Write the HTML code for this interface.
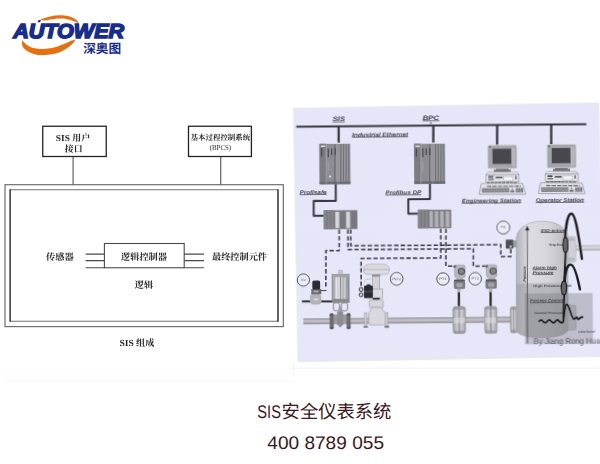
<!DOCTYPE html>
<html lang="zh"><head><meta charset="utf-8"><title>SIS安全仪表系统</title>
<style>
html,body{margin:0;padding:0;background:#fff}
body{width:600px;height:464px;overflow:hidden;position:relative;font-family:"Liberation Sans",sans-serif}
svg{position:absolute;left:0;top:0;display:block}
text{font-family:"Liberation Sans",sans-serif;text-rendering:geometricPrecision}
</style></head><body>
<svg width="600" height="464" viewBox="0 0 600 464">
<defs>
<filter id="b3" x="-5%" y="-5%" width="110%" height="110%"><feGaussianBlur stdDeviation="0.35"/></filter>
<filter id="b5" x="-5%" y="-5%" width="110%" height="110%"><feGaussianBlur stdDeviation="0.5"/></filter>
<filter id="b2" x="-5%" y="-5%" width="110%" height="110%"><feGaussianBlur stdDeviation="0.25"/></filter>
<linearGradient id="bg" x1="0" y1="0" x2="0" y2="1"><stop offset="0" stop-color="#e6e6fa"/><stop offset="1" stop-color="#e7e7fa"/></linearGradient>
<linearGradient id="pipe" x1="0" y1="0" x2="0" y2="1"><stop offset="0" stop-color="#8e8e93"/><stop offset="0.45" stop-color="#c8c8ce"/><stop offset="1" stop-color="#8a8a8f"/></linearGradient>
<linearGradient id="cyl" x1="0" y1="0" x2="1" y2="0"><stop offset="0" stop-color="#9a9aa0"/><stop offset="0.4" stop-color="#d8d8de"/><stop offset="1" stop-color="#8e8e94"/></linearGradient>
<linearGradient id="ves" x1="0" y1="0" x2="1" y2="0"><stop offset="0" stop-color="#b0b0b6"/><stop offset="0.25" stop-color="#dcdce2"/><stop offset="0.6" stop-color="#d6d6dc"/><stop offset="1" stop-color="#b8b8be"/></linearGradient>
<linearGradient id="flg" x1="0" y1="0" x2="1" y2="0"><stop offset="0" stop-color="#9a9aa0"/><stop offset="0.35" stop-color="#d2d2d8"/><stop offset="0.5" stop-color="#8e8e94"/><stop offset="0.65" stop-color="#d2d2d8"/><stop offset="1" stop-color="#9a9aa0"/></linearGradient>
<linearGradient id="noz" x1="0" y1="0" x2="0" y2="1"><stop offset="0" stop-color="#b4b4ba"/><stop offset="0.4" stop-color="#dadae0"/><stop offset="1" stop-color="#aaaab0"/></linearGradient>
<clipPath id="vclip"><path d="M220.7 130.2 C221.8 120.7 232.5 114 246.5 114.1 C260.5 114.2 271.5 120.6 272.4 129.6 L271.6 223.6 C269.5 228.1 259.5 230.6 245.5 230.5 C231.5 230.4 221.8 227.7 219.9 223.7 Z"/></clipPath>
</defs>
<g id="logo">
<path d="M22.6 40.1 C21 43.5 22 46.5 24.3 48.8 C27 51.8 32 54 38 54.9 C42 55.4 48 55 55.8 53.5 C62 52 68.5 48 73.3 43 C74.5 41.8 75 40.6 75.1 39.5 C73.5 40 72 40.3 71 40.7 C68 42.5 65 43.8 61.7 44.7 C58 46.5 54 47.6 50 48.2 C46 49 42 49.2 38.3 48.8 C33 48.3 29.5 46.8 26.7 44.7 C24.5 43.2 23.3 41.8 22.6 40.1 Z" fill="#e5700f"/>
<path d="M40.1 19.9 C43 18.2 46.5 17.2 50 16.4 C54 15.5 58 15.1 61.7 15.25 C65 15.4 68.5 16 71 17 C74.5 18.3 77 20 78 21.7 C78.5 22.3 78.7 22.9 78.6 23.4 C77 22.5 75 21.7 73.3 21.1 C70.5 19.9 68 19.2 65.2 18.75 C62 18.3 59 18.3 55.8 18.75 C52 19.2 48.5 19.8 45.3 20.6 Z" fill="#e5700f"/>
<text x="13.2" y="37.9" font-size="20.2" font-weight="bold" font-style="italic" fill="#182c8c" stroke="#182c8c" stroke-width="1.5" stroke-linejoin="miter" textLength="111" lengthAdjust="spacingAndGlyphs">AUTOWER</text>
<path d="M37.6 22.3 L38.6 20 L41 20 L40 22.3 Z" fill="#182c8c"/>
<text x="83.2" y="52.6" font-size="12.6" font-weight="bold" fill="#182c8c" style="font-family:'Liberation Sans','Noto Sans CJK SC',sans-serif" textLength="38" lengthAdjust="spacingAndGlyphs">深奥图</text>
</g>
<path d="M0 368.2H292" stroke="#fafafa" stroke-width="0.9"/><path d="M292 368.2H600" stroke="#f1f1f3" stroke-width="0.9"/><path d="M3 380.7H295" stroke="#f9f9f9" stroke-width="0.9"/><path d="M293.6 362V375" stroke="#f0f0f3" stroke-width="0.9"/>
<g id="left" filter="url(#b3)">
<rect x="5" y="184.7" width="278.3" height="141.9" fill="none" stroke="#6e6e6e" stroke-width="1.2"/>
<path d="M10.1 189.8H278M10.1 321.3H278" stroke="#707070" stroke-width="1.1" fill="none"/>
<path d="M10.1 189.3V321.8M278 189.3V321.8" stroke="#262626" stroke-width="1.4" fill="none"/>
<rect x="42.75" y="126.25" width="63.5" height="30.25" fill="none" stroke="#222" stroke-width="1.3"/>
<rect x="188.5" y="126.25" width="62.9" height="30.25" fill="none" stroke="#222" stroke-width="1.3"/>
<path d="M73.1 157V184.5M220.75 157V184.5" stroke="#555" stroke-width="1.1" fill="none"/>
<rect x="104.4" y="243.5" width="79.8" height="24.25" fill="none" stroke="#4a4a4a" stroke-width="1.1"/>
<path d="M85.6 254.1H104.4M85.6 260.6H104.4M85.6 267.75H104.4M184.2 254.1H203.9M184.2 260.6H203.9M184.2 267.75H203.9" stroke="#4a4a4a" stroke-width="1.1" fill="none"/>
<text x="55.8" y="141" font-size="9" font-weight="bold" fill="#262626" style="font-family:'Liberation Serif',serif" textLength="14.1" lengthAdjust="spacingAndGlyphs">SIS</text>
<text x="72.3" y="141.2" font-size="9" font-weight="bold" fill="#262626" style="font-family:'Liberation Serif','Noto Serif CJK SC',serif" textLength="17.8" lengthAdjust="spacingAndGlyphs">用户</text>
<text x="64.8" y="152.3" font-size="9" font-weight="bold" fill="#262626" style="font-family:'Liberation Serif','Noto Serif CJK SC',serif" textLength="17.8" lengthAdjust="spacingAndGlyphs">接口</text>
<text x="190.5" y="139.8" font-size="7.5" font-weight="bold" fill="#262626" style="font-family:'Liberation Serif','Noto Serif CJK SC',serif" textLength="59.8" lengthAdjust="spacingAndGlyphs">基本过程控制系统</text>
<text x="209.7" y="149.5" font-size="7.6" fill="#2a2a2a" style="font-family:'Liberation Serif',serif" textLength="21.4" lengthAdjust="spacingAndGlyphs">(BPCS)</text>
<text x="46" y="260.3" font-size="9.2" font-weight="bold" fill="#262626" style="font-family:'Liberation Serif','Noto Serif CJK SC',serif" textLength="27.6" lengthAdjust="spacingAndGlyphs">传感器</text>
<text x="121" y="260" font-size="9.2" font-weight="bold" fill="#262626" style="font-family:'Liberation Serif','Noto Serif CJK SC',serif" textLength="46" lengthAdjust="spacingAndGlyphs">逻辑控制器</text>
<text x="134.8" y="287.9" font-size="9.1" font-weight="bold" fill="#262626" style="font-family:'Liberation Serif','Noto Serif CJK SC',serif" textLength="18.4" lengthAdjust="spacingAndGlyphs">逻辑</text>
<text x="212" y="260.4" font-size="9.2" font-weight="bold" fill="#262626" style="font-family:'Liberation Serif','Noto Serif CJK SC',serif" textLength="55" lengthAdjust="spacingAndGlyphs">最终控制元件</text>
<text x="119.4" y="345.5" font-size="9.3" font-weight="bold" fill="#262626" style="font-family:'Liberation Serif',serif" textLength="14.4" lengthAdjust="spacingAndGlyphs">SIS</text>
<text x="136" y="345.5" font-size="9.2" font-weight="bold" fill="#262626" style="font-family:'Liberation Serif','Noto Serif CJK SC',serif" textLength="18.3" lengthAdjust="spacingAndGlyphs">组成</text>
</g>
<g id="picbg" transform="translate(294.5 109.25) rotate(-1.0)" filter="url(#b3)">
<rect x="0" y="0" width="303.3" height="251.5" fill="url(#bg)" stroke="#e7e7eb" stroke-width="2.8" paint-order="stroke"/>
</g>
<g id="pic" transform="translate(294.5 109.25) rotate(-0.5)" filter="url(#b3)">
<path d="M1.6 17.5 L291.7 17.5" fill="none" stroke="#37373c" stroke-width="2.1" />
<path d="M44 17.6 L43.9 33.7" fill="none" stroke="#37373c" stroke-width="2.3" />
<path d="M138.7 17.5 L138.5 34.4" fill="none" stroke="#37373c" stroke-width="2.3" />
<path d="M202.5 17.5 L202.3 37.8" fill="none" stroke="#37373c" stroke-width="2.3" />
<path d="M256.6 17.4 L256.4 37.8" fill="none" stroke="#37373c" stroke-width="2.3" />
<path d="M40.6 75.1 L40.5 91.9 L18.4 91.7 L18.3 106.7 L28.6 106.8" fill="none" stroke="#37373c" stroke-width="2.0" stroke-linejoin="round"/>
<path d="M134.8 75.5 L134.7 91.1 L113 90.9 L112.9 105.4 L122.8 105.5" fill="none" stroke="#37373c" stroke-width="2.0" stroke-linejoin="round"/>
<circle cx="136.3" cy="15.1" r="0.9" fill="none" stroke="#4a4a50" stroke-width="0.5" />
<rect x="24.6" y="34.9" width="30.8" height="40.4" fill="#8c8c91" />
<rect x="24.6" y="34.7" width="6.7" height="40.4" fill="#7c7c82" />
<rect x="24.5" y="72.7" width="30.8" height="2.6" fill="#6c6c72" />
<rect x="40.6" y="35.5" width="2" height="37.2" fill="#98989e" />
<rect x="43.6" y="35.5" width="1.8" height="37.2" fill="#98989e" />
<rect x="46.3" y="35.5" width="1.7" height="37.2" fill="#98989e" />
<rect x="49" y="35.5" width="1.7" height="37.2" fill="#98989e" />
<rect x="51.6" y="35.6" width="1.4" height="37.2" fill="#98989e" />
<path d="M31.4 35.3 L31.1 74.7" fill="none" stroke="#b5b5bb" stroke-width="0.6" />
<path d="M40.2 35.4 L39.8 74.8" fill="none" stroke="#5a5a60" stroke-width="0.9" />
<path d="M43.3 35.4 L42.9 74.8" fill="none" stroke="#a0a0a6" stroke-width="0.5" />
<path d="M46 35.4 L45.7 74.9" fill="none" stroke="#606066" stroke-width="0.8" />
<path d="M48.7 35.4 L48.3 74.9" fill="none" stroke="#66666c" stroke-width="0.8" />
<path d="M51.3 35.4 L50.9 74.9" fill="none" stroke="#66666c" stroke-width="0.8" />
<path d="M53.6 35.5 L53.2 74.9" fill="none" stroke="#6c6c72" stroke-width="0.7" />
<path d="M26.8 39.3 L26.7 47.5" fill="none" stroke="#3e3e44" stroke-width="1.1" />
<path d="M33.4 39.4 L33.3 48.2" fill="none" stroke="#3e3e44" stroke-width="1.1" />
<path d="M36.7 39.4 L36.6 46.3" fill="none" stroke="#3e3e44" stroke-width="1.1" />
<path d="M40.4 39.1 L40.3 46.1" fill="none" stroke="#3e3e44" stroke-width="1.1" />
<rect x="26" y="36.5" width="4.4" height="1.5" fill="#d8d8de" />
<path d="M33.2 52.8 L33.2 61.8" fill="none" stroke="#a8a8ae" stroke-width="0.8" />
<circle cx="35" cy="67.4" r="1" fill="#f0f0f4" stroke="none" stroke-width="0" />
<rect x="119.3" y="35.7" width="30.9" height="40.1" fill="#8c8c91" />
<rect x="119.3" y="35.6" width="6.7" height="40.1" fill="#7c7c82" />
<rect x="119.1" y="73.1" width="30.9" height="2.6" fill="#6c6c72" />
<rect x="135.4" y="36.3" width="2" height="36.9" fill="#98989e" />
<rect x="138.3" y="36.3" width="1.9" height="36.9" fill="#98989e" />
<rect x="141.1" y="36.3" width="1.7" height="36.9" fill="#98989e" />
<rect x="143.7" y="36.4" width="1.7" height="36.9" fill="#98989e" />
<rect x="146.4" y="36.4" width="1.4" height="36.9" fill="#98989e" />
<path d="M126.1 36.1 L125.8 75.2" fill="none" stroke="#b5b5bb" stroke-width="0.6" />
<path d="M134.9 36.2 L134.6 75.2" fill="none" stroke="#5a5a60" stroke-width="0.9" />
<path d="M138 36.2 L137.7 75.3" fill="none" stroke="#a0a0a6" stroke-width="0.5" />
<path d="M140.8 36.2 L140.5 75.3" fill="none" stroke="#606066" stroke-width="0.8" />
<path d="M143.4 36.3 L143.1 75.3" fill="none" stroke="#66666c" stroke-width="0.8" />
<path d="M146.1 36.3 L145.7 75.3" fill="none" stroke="#66666c" stroke-width="0.8" />
<path d="M148.4 36.3 L148 75.3" fill="none" stroke="#6c6c72" stroke-width="0.7" />
<path d="M121.4 40.2 L121.3 48.4" fill="none" stroke="#3e3e44" stroke-width="1.1" />
<path d="M128 40.2 L127.9 49" fill="none" stroke="#3e3e44" stroke-width="1.1" />
<path d="M131.3 40.2 L131.2 47.1" fill="none" stroke="#3e3e44" stroke-width="1.1" />
<path d="M135 39.9 L134.9 46.9" fill="none" stroke="#3e3e44" stroke-width="1.1" />
<rect x="120.6" y="37.4" width="4.4" height="1.5" fill="#d8d8de" />
<path d="M127.9 53.6 L127.8 62.6" fill="none" stroke="#a8a8ae" stroke-width="0.8" />
<rect x="28.2" y="101.4" width="33.8" height="18.9" fill="#7e7e84" />
<rect x="28.2" y="101.3" width="10.5" height="18.9" fill="#85858b" />
<rect x="39.8" y="103" width="3.9" height="16.1" fill="#d6d6dd" />
<rect x="50.8" y="103.1" width="3.7" height="16.1" fill="#d6d6dd" />
<path d="M31.6 101.8 L31.5 119.7" fill="none" stroke="#66666c" stroke-width="0.6" />
<path d="M35.1 101.9 L35 119.8" fill="none" stroke="#66666c" stroke-width="0.6" />
<path d="M38.8 101.9 L38.7 119.8" fill="none" stroke="#66666c" stroke-width="0.6" />
<rect x="122.5" y="101.7" width="33.3" height="18.6" fill="#7e7e84" />
<rect x="122.5" y="101.6" width="10.5" height="18.6" fill="#85858b" />
<rect x="134.2" y="103.2" width="3.2" height="15.8" fill="#b2b2b8" />
<rect x="139.5" y="103.3" width="3.2" height="15.8" fill="#b2b2b8" />
<rect x="144.8" y="103.3" width="3.3" height="15.8" fill="#b2b2b8" />
<rect x="150.3" y="103.4" width="3.5" height="15.8" fill="#b2b2b8" />
<path d="M125.9 102.1 L125.8 119.7" fill="none" stroke="#66666c" stroke-width="0.6" />
<path d="M129.4 102.1 L129.3 119.7" fill="none" stroke="#66666c" stroke-width="0.6" />
<path d="M133.1 102.1 L133 119.7" fill="none" stroke="#66666c" stroke-width="0.6" />
<path d="M46.1 102.2 L46 119.8" fill="none" stroke="#66666c" stroke-width="0.6" />
<path d="M48.6 102.2 L48.5 119.8" fill="none" stroke="#66666c" stroke-width="0.6" />
<path d="M57.1 102.3 L57 119.9" fill="none" stroke="#66666c" stroke-width="0.6" />
<path d="M59.6 102.3 L59.5 119.9" fill="none" stroke="#66666c" stroke-width="0.6" />
<text x="37.9" y="12" font-size="6.4" font-weight="bold" font-style="italic" fill="#3c3c42" textLength="12.5" lengthAdjust="spacingAndGlyphs" >SIS</text>
<rect x="37.9" y="12.7" width="12.5" height="0.7" fill="#3c3c42"/>
<text x="127.9" y="12" font-size="6.4" font-weight="bold" font-style="italic" fill="#3c3c42" textLength="16.7" lengthAdjust="spacingAndGlyphs" >BPC</text>
<rect x="127.9" y="12.5" width="16.7" height="0.7" fill="#3c3c42"/>
<text x="57.3" y="27.9" font-size="5.6" font-weight="bold" font-style="italic" fill="#3c3c42" textLength="56" lengthAdjust="spacingAndGlyphs" >Industrial Ethernet</text>
<rect x="57.3" y="28.2" width="56" height="0.7" fill="#3c3c42"/>
<text x="4.5" y="84.6" font-size="5.4" font-weight="bold" font-style="italic" fill="#3c3c42" textLength="27" lengthAdjust="spacingAndGlyphs" >Profisafe</text>
<rect x="4.5" y="85.2" width="27" height="0.7" fill="#3c3c42"/>
<text x="90.3" y="85.7" font-size="5.4" font-weight="bold" font-style="italic" fill="#3c3c42" textLength="35.8" lengthAdjust="spacingAndGlyphs" >Profibus DP</text>
<rect x="90.2" y="86.4" width="35.8" height="0.7" fill="#3c3c42"/>
<text x="166.6" y="94.8" font-size="5.4" font-weight="bold" font-style="italic" fill="#3c3c42" textLength="59.2" lengthAdjust="spacingAndGlyphs" >Engineering Station</text>
<rect x="166.6" y="95.3" width="59.2" height="0.7" fill="#3c3c42"/>
<text x="240.5" y="94.8" font-size="5.4" font-weight="bold" font-style="italic" fill="#3c3c42" textLength="48.3" lengthAdjust="spacingAndGlyphs" >Operator Station</text>
<rect x="240.5" y="95.3" width="48.3" height="0.7" fill="#3c3c42"/>
<rect x="192.9" y="37.8" width="29" height="23.3" fill="#a4a4aa" rx="1.6" stroke="#cfcfd6" stroke-width="0.9"/>
<rect x="216.7" y="40.3" width="3.6" height="19" fill="#b6b6bb" />
<rect x="197.6" y="41.3" width="18.7" height="15.2" fill="#46464d" />
<rect x="194.4" y="38.8" width="1.4" height="1.2" fill="#2e2e33" />
<rect x="198.8" y="62" width="17" height="3.4" fill="#7c7c82" />
<rect x="201" y="61.4" width="12.5" height="1.4" fill="#6a6a70" />
<path d="M192.9 64.4 L221.9 64.7 L223.9 67.3 L190.9 67 Z" fill="#e6e6ec" stroke="#8c8c92" stroke-width="0.5" />
<rect x="190.9" y="67.2" width="33" height="7.6" fill="#e0e0e7" stroke="#8c8c92" stroke-width="0.6"/>
<rect x="193.2" y="68.5" width="5" height="1.8" fill="#4a4a50" />
<rect x="193.2" y="71.3" width="5.5" height="1.3" fill="#66666c" />
<rect x="200.5" y="69.1" width="6.9" height="1.8" fill="#5a5a60" />
<rect x="208.8" y="69.1" width="9.1" height="4.1" fill="#f2f2f6" stroke="#9a9aa0" stroke-width="0.4"/>
<rect x="220.2" y="68.7" width="1.3" height="3.2" fill="#4a4a50" />
<path d="M191.9 75 L222.4 75.3" fill="none" stroke="#55555a" stroke-width="1.2" stroke-dasharray="3 0.8"/>
<path d="M186.2 75.9 L227.5 76.2 L230.6 87.1 L183.9 86.7 Z" fill="#e3e3ea" stroke="#96969c" stroke-width="0.8" />
<path d="M191.7 78.7 L225.7 79" fill="none" stroke="#6c6c72" stroke-width="1.3" stroke-dasharray="4.5 1"/>
<rect x="186.7" y="80.5" width="27.5" height="4.6" fill="#7e7e84" />
<path d="M186.8 81.9 L214.2 82.1" fill="none" stroke="#b8b8be" stroke-width="0.4" />
<path d="M186.8 83.4 L214.2 83.6" fill="none" stroke="#b8b8be" stroke-width="0.4" />
<rect x="215.2" y="82.8" width="4" height="2.4" fill="#77777c" />
<rect x="216.6" y="80.6" width="1.2" height="1.6" fill="#77777c" />
<rect x="220.6" y="80.7" width="7.4" height="4.6" fill="#7e7e84" />
<path d="M223 80.7 L223 85.3" fill="none" stroke="#c8c8ce" stroke-width="0.4" />
<path d="M225.5 80.7 L225.5 85.3" fill="none" stroke="#c8c8ce" stroke-width="0.4" />
<rect x="252.1" y="37.6" width="29" height="23.3" fill="#a4a4aa" rx="1.6" stroke="#cfcfd6" stroke-width="0.9"/>
<rect x="275.9" y="40.1" width="3.6" height="19" fill="#b6b6bb" />
<rect x="256.8" y="41.1" width="18.7" height="15.2" fill="#46464d" />
<rect x="253.6" y="38.6" width="1.4" height="1.2" fill="#2e2e33" />
<rect x="258" y="61.8" width="17" height="3.4" fill="#7c7c82" />
<rect x="260.2" y="61.2" width="12.5" height="1.4" fill="#6a6a70" />
<path d="M252.1 64.3 L281.1 64.5 L283.1 67.1 L250.1 66.8 Z" fill="#e6e6ec" stroke="#8c8c92" stroke-width="0.5" />
<rect x="250.1" y="67" width="33" height="7.6" fill="#e0e0e7" stroke="#8c8c92" stroke-width="0.6"/>
<rect x="252.4" y="68.3" width="5" height="1.8" fill="#4a4a50" />
<rect x="252.4" y="71.1" width="5.5" height="1.3" fill="#66666c" />
<rect x="259.7" y="68.9" width="6.9" height="1.8" fill="#5a5a60" />
<rect x="268" y="68.9" width="9.1" height="4.1" fill="#f2f2f6" stroke="#9a9aa0" stroke-width="0.4"/>
<rect x="279.4" y="68.5" width="1.3" height="3.2" fill="#4a4a50" />
<path d="M251.1 74.8 L281.6 75.1" fill="none" stroke="#55555a" stroke-width="1.2" stroke-dasharray="3 0.8"/>
<path d="M245.4 75.7 L286.7 76.1 L289.9 86.9 L243.1 86.5 Z" fill="#e3e3ea" stroke="#96969c" stroke-width="0.8" />
<path d="M250.9 78.5 L284.9 78.8" fill="none" stroke="#6c6c72" stroke-width="1.3" stroke-dasharray="4.5 1"/>
<rect x="245.9" y="80.3" width="27.5" height="4.6" fill="#7e7e84" />
<path d="M246 81.7 L273.4 81.9" fill="none" stroke="#b8b8be" stroke-width="0.4" />
<path d="M246 83.2 L273.4 83.4" fill="none" stroke="#b8b8be" stroke-width="0.4" />
<rect x="274.4" y="82.7" width="4" height="2.4" fill="#77777c" />
<rect x="275.8" y="80.5" width="1.2" height="1.6" fill="#77777c" />
<rect x="279.8" y="80.5" width="7.4" height="4.6" fill="#7e7e84" />
<path d="M282.2 80.5 L282.2 85.1" fill="none" stroke="#c8c8ce" stroke-width="0.4" />
<path d="M284.7 80.5 L284.7 85.1" fill="none" stroke="#c8c8ce" stroke-width="0.4" />
<path d="M43.6 120.7 L43.5 141.7 L30.2 141.6 L29.8 179.5" fill="none" stroke="#3a3a40" stroke-width="1.55" stroke-dasharray="4.3 2.3" stroke-linejoin="round"/>
<path d="M23.9 181.6 L30.4 181.6" fill="none" stroke="#3a3a40" stroke-width="1.0" />
<path d="M55.2 120.8 L55.1 136.9 L144.3 137.3 L205.1 137.2 L205 149.2 L215 149.3 L215.1 141.1" fill="none" stroke="#3a3a40" stroke-width="1.55" stroke-dasharray="4.3 2.3" stroke-linejoin="round"/>
<path d="M52.4 120.8 L52.3 140.8 L144.3 141.1 L177.6 140.9 L177.4 158.5 L189.1 158.6" fill="none" stroke="#3a3a40" stroke-width="1.55" stroke-dasharray="4.3 2.3" stroke-linejoin="round"/>
<path d="M145.3 120.7 L145 150 L65.3 149.7 L65.1 177.8" fill="none" stroke="#3a3a40" stroke-width="1.55" stroke-dasharray="4.3 2.3" stroke-linejoin="round"/>
<path d="M150.4 120.8 L150 158.3 L157.5 158.3" fill="none" stroke="#3a3a40" stroke-width="1.55" stroke-dasharray="4.3 2.3" stroke-linejoin="round"/>
<circle cx="7.4" cy="170.9" r="6.1" fill="#ececf8" stroke="#3e3e44" stroke-width="0.9" />
<text x="4.9" y="172.2" font-size="3.4" font-weight="normal" font-style="normal" fill="#55555b" textLength="5" lengthAdjust="spacingAndGlyphs" >SV</text>
<circle cx="100.7" cy="170.5" r="6.3" fill="#ececf8" stroke="#3e3e44" stroke-width="0.9" />
<text x="96.2" y="171.8" font-size="3.4" font-weight="normal" font-style="normal" fill="#55555b" textLength="9" lengthAdjust="spacingAndGlyphs" >PCV</text>
<circle cx="147" cy="171" r="6.2" fill="#ececf8" stroke="#3e3e44" stroke-width="0.9" />
<text x="143.3" y="172.3" font-size="3.4" font-weight="normal" font-style="normal" fill="#55555b" textLength="7.5" lengthAdjust="spacingAndGlyphs" >PT1</text>
<circle cx="179.2" cy="171.1" r="6.2" fill="#ececf8" stroke="#3e3e44" stroke-width="0.9" />
<text x="175.5" y="172.4" font-size="3.4" font-weight="normal" font-style="normal" fill="#55555b" textLength="7.5" lengthAdjust="spacingAndGlyphs" >PT2</text>
<circle cx="207.8" cy="120.1" r="6.4" fill="#ececf8" stroke="#3e3e44" stroke-width="0.9" />
<text x="205.2" y="121.3" font-size="3.4" font-weight="normal" font-style="normal" fill="#55555b" textLength="5" lengthAdjust="spacingAndGlyphs" >PS</text>
<rect x="7" y="209.3" width="213.2" height="5.9" fill="url(#pipe)" />
<path d="M5.8 192.2 L36.1 192.5" fill="none" stroke="#303035" stroke-width="1.9" />
<rect x="13.8" y="184.9" width="11.3" height="10.6" fill="#b2b2b8" rx="3"/>
<rect x="15.2" y="180.1" width="10" height="5.1" fill="#68686e" />
<rect x="17.4" y="181.4" width="5" height="2.1" fill="#a8a8ae" />
<rect x="16.3" y="171.6" width="7.8" height="8.9" fill="#2c2c31" rx="1.5"/>
<rect x="17.4" y="189.2" width="5" height="2" fill="#d6d6dc" rx="1"/>
<rect x="42.8" y="161.5" width="3.5" height="4.2" fill="#c6c6cc" stroke="#9a9aa0" stroke-width="0.4"/>
<rect x="36" y="165.4" width="17.1" height="28.4" fill="url(#cyl)" stroke="#808086" stroke-width="0.6"/>
<rect x="36.1" y="165.4" width="17.1" height="2.8" fill="#a2a2a8" />
<rect x="35.9" y="190" width="17.1" height="3.7" fill="#8a8a90" />
<path d="M44.6 168.1 L44.4 190.1" fill="none" stroke="#8e8e94" stroke-width="1.0" />
<path d="M40.4 168.6 L40.2 189.6" fill="none" stroke="#e4e4ea" stroke-width="1.6" />
<path d="M49 168.7 L48.8 189.7" fill="none" stroke="#d0d0d6" stroke-width="1.4" />
<rect x="37.2" y="193.9" width="6.2" height="8" fill="none" rx="2" stroke="#85858b" stroke-width="1"/>
<rect x="45.2" y="194" width="6.2" height="8" fill="none" rx="2" stroke="#85858b" stroke-width="1"/>
<rect x="42.3" y="198.4" width="3.7" height="8.7" fill="#9c9ca2" />
<rect x="37.2" y="205.6" width="13.3" height="9.5" fill="#9a9aa0" />
<path d="M40.9 202.7 L46.9 202.8 L46.8 215.7 L43.8 218.7 L40.8 215.6 Z" fill="#8c8c92" stroke="none" stroke-width="0" />
<rect x="33.3" y="204.4" width="4.1" height="15.8" fill="#6a6a70" rx="1.8"/>
<rect x="50.2" y="204.5" width="4.1" height="15.8" fill="#6a6a70" rx="1.8"/>
<rect x="33.6" y="204.4" width="3.7" height="2.3" fill="#55555a" rx="1"/>
<rect x="33.5" y="218" width="3.7" height="2.2" fill="#55555a" rx="1"/>
<rect x="50.5" y="204.5" width="3.7" height="2.3" fill="#55555a" rx="1"/>
<rect x="50.4" y="218.1" width="3.7" height="2.2" fill="#55555a" rx="1"/>
<path d="M67.5 161.5 C67.5 157.8 70.1 155.7 74.1 155.7 L87.1 155.8 C91.1 155.9 93.5 158.1 93.5 161.8 L92.7 164.1 C92.1 165.4 90.1 165.8 88.1 165.8 L73.1 165.7 C70.6 165.7 68.9 165.2 68.3 163.9 Z" fill="#dedee4" stroke="#96969c" stroke-width="0.6" />
<path d="M67.9 160.9 L93.1 161.2" fill="none" stroke="#a2a2a8" stroke-width="0.8" />
<path d="M70.1 158.4 L91.1 158.6" fill="none" stroke="#c2c2c8" stroke-width="0.5" />
<rect x="76.2" y="166.4" width="8.1" height="1.4" fill="#505056" />
<rect x="76.7" y="167.8" width="7" height="12.7" fill="#d2d2d8" stroke="#96969c" stroke-width="0.6"/>
<rect x="76.1" y="180.3" width="10.5" height="9.2" fill="#dcdce2" stroke="#96969c" stroke-width="0.6"/>
<rect x="76.6" y="189.2" width="7" height="2.2" fill="#26262b" />
<rect x="73.1" y="191.4" width="14" height="7.7" fill="#d6d6dc" stroke="#96969c" stroke-width="0.6" rx="1"/>
<path d="M75.5 198.9 L85.4 199 L87.2 203.1 L89.4 203.9 L89.3 214 C89.3 215.8 88.1 216.5 86.6 216.5 L75.1 216.4 C73.6 216.4 72.4 215.7 72.4 213.9 L72.5 203.8 L73.7 203 Z" fill="#d8d8de" stroke="#96969c" stroke-width="0.6" />
<rect x="68.1" y="204.1" width="2.4" height="13.1" fill="#d0d0d6" stroke="#96969c" stroke-width="0.6"/>
<rect x="89.1" y="204.3" width="2.6" height="13.1" fill="#d0d0d6" stroke="#96969c" stroke-width="0.6"/>
<rect x="67" y="217.4" width="4.7" height="1.7" fill="#66666c" rx="0.8"/>
<rect x="88" y="217.5" width="4.9" height="1.7" fill="#66666c" rx="0.8"/>
<path d="M68.5 174.9 L69.2 170.7 L76.4 170" fill="none" stroke="#c4c4ca" stroke-width="0.9" />
<rect x="67.9" y="177" width="8.9" height="12.6" fill="#2b2b30" rx="1"/>
<rect x="70.5" y="175.8" width="4.1" height="1.8" fill="#2b2b30" rx="0.6"/>
<path d="M68.2 182.9 L76.5 182.9" fill="none" stroke="#707076" stroke-width="0.7" />
<circle cx="65" cy="180.7" r="1.9" fill="#d8d8de" stroke="#26262b" stroke-width="1.0" />
<circle cx="65" cy="186.1" r="1.9" fill="#d8d8de" stroke="#26262b" stroke-width="1.0" />
<rect x="158.7" y="157.2" width="10.5" height="12.6" fill="#b6b6bc" rx="2" stroke="#8e8e94" stroke-width="0.5"/>
<rect x="157.4" y="157.5" width="2.9" height="2.2" fill="#606066" rx="0.6"/>
<circle cx="165.5" cy="163.6" r="3.1" fill="#85858b" stroke="#505056" stroke-width="1.2" />
<rect x="160.5" y="169.6" width="6.5" height="2.4" fill="#b8b8be" />
<rect x="157.8" y="171.8" width="11.3" height="9.4" fill="#7c7c82" rx="1.6"/>
<rect x="158.2" y="171.8" width="10.4" height="1.6" fill="#505056" rx="0.6"/>
<rect x="160.5" y="175.2" width="6" height="4" fill="#a4a4aa" rx="1"/>
<rect x="161.1" y="181" width="3.4" height="3.8" fill="#b4b4ba" />
<path d="M162.8 184.6 L162.7 198.8" fill="none" stroke="#222226" stroke-width="2.2" />
<rect x="190.4" y="157.2" width="10.5" height="12.6" fill="#b6b6bc" rx="2" stroke="#8e8e94" stroke-width="0.5"/>
<rect x="189.1" y="157.5" width="2.9" height="2.2" fill="#606066" rx="0.6"/>
<circle cx="197.2" cy="163.6" r="3.1" fill="#85858b" stroke="#505056" stroke-width="1.2" />
<rect x="192.2" y="169.6" width="6.5" height="2.4" fill="#b8b8be" />
<rect x="189.5" y="171.8" width="11.3" height="9.4" fill="#7c7c82" rx="1.6"/>
<rect x="189.9" y="171.8" width="10.4" height="1.6" fill="#505056" rx="0.6"/>
<rect x="192.2" y="175.2" width="6" height="4" fill="#a4a4aa" rx="1"/>
<rect x="192.8" y="181" width="3.4" height="3.8" fill="#b4b4ba" />
<path d="M194.5 184.6 L194.4 198.8" fill="none" stroke="#222226" stroke-width="2.2" />
<rect x="156.7" y="198.8" width="12.5" height="26.9" fill="url(#flg)" rx="2.6" stroke="#8c8c92" stroke-width="0.5"/>
<rect x="157.4" y="198.8" width="11.3" height="3" fill="#94949a" rx="1.4" opacity="0.8"/>
<rect x="157.1" y="222.7" width="11.3" height="3" fill="#94949a" rx="1.4" opacity="0.8"/>
<rect x="157.2" y="209.8" width="11.5" height="5.6" fill="#e0e0e6" opacity="0.55"/>
<rect x="188.3" y="198.9" width="12.3" height="26.9" fill="url(#flg)" rx="2.6" stroke="#8c8c92" stroke-width="0.5"/>
<rect x="189" y="198.9" width="11.1" height="3" fill="#94949a" rx="1.4" opacity="0.8"/>
<rect x="188.8" y="222.8" width="11.1" height="3" fill="#94949a" rx="1.4" opacity="0.8"/>
<rect x="188.7" y="210.1" width="11.3" height="5.6" fill="#e0e0e6" opacity="0.55"/>
<rect x="278.3" y="138.5" width="32" height="5.4" fill="url(#noz)" />
<rect x="271.3" y="129.7" width="8.8" height="25.5" fill="#d0d0d6" rx="2" stroke="#a4a4aa" stroke-width="0.5"/>
<rect x="272.9" y="130.7" width="6" height="3.5" fill="#b8b8be" rx="1"/>
<rect x="272.7" y="150.7" width="6" height="3.5" fill="#b8b8be" rx="1"/>
<rect x="270.7" y="198.2" width="9" height="25" fill="#c4c4ca" rx="2" stroke="#9a9aa0" stroke-width="0.5"/>
<rect x="214" y="199.5" width="6.7" height="26" fill="url(#flg)" rx="2.4" stroke="#8c8c92" stroke-width="0.5"/>
<rect x="214.6" y="199.5" width="5.8" height="3" fill="#94949a" rx="1.3" opacity="0.8"/>
<rect x="214.4" y="222.5" width="5.8" height="3" fill="#94949a" rx="1.3" opacity="0.8"/>
<path d="M220.7 130.2 C221.8 120.7 232.5 114 246.5 114.1 C260.5 114.2 271.5 120.6 272.4 129.6 L271.6 223.6 C269.5 228.1 259.5 230.6 245.5 230.5 C231.5 230.4 221.8 227.7 219.9 223.7 Z" fill="url(#ves)" stroke="#a6a6ac" stroke-width="0.6" />
<g clip-path="url(#vclip)">
<rect x="213.7" y="176.4" width="65" height="61.5" fill="#9c9ca2" opacity="0.55"/>
<path d="M219 176.2 L274 176.1" fill="none" stroke="#b8b8be" stroke-width="0.6" />
</g>
<rect x="228.4" y="186.3" width="68.1" height="50.9" fill="#77777e" opacity="0.38"/>
<path d="M231.8 120.8 L230.9 236.1" fill="none" stroke="#3c3c42" stroke-width="0.8" />
<path d="M231.8 118.6 L234 123.2 L229.4 123.2 Z" fill="#2c2c31" stroke="none" stroke-width="0" />
<rect x="217.3" y="133" width="3.6" height="7" fill="#9c9ca2" />
<rect x="210.1" y="132.2" width="7.5" height="9" fill="#4e4e54" rx="0.8"/>
<rect x="213.9" y="138.2" width="2" height="1.8" fill="#c8c8ce" />
<text x="245.2" y="124.6" font-size="4.3" font-weight="bold" font-style="italic" fill="#3c3c42" textLength="24" lengthAdjust="spacingAndGlyphs" >ESD action</text>
<rect x="245.2" y="125" width="24" height="0.7" fill="#3c3c42"/>
<text x="253.3" y="138.9" font-size="3.2" font-weight="bold" font-style="normal" fill="#3c3c42" textLength="17" lengthAdjust="spacingAndGlyphs" >Trip Point</text>
<text x="236.6" y="162.1" font-size="4.2" font-weight="bold" font-style="italic" fill="#3c3c42" textLength="24.2" lengthAdjust="spacingAndGlyphs" >Alarm high</text>
<rect x="236.6" y="162.4" width="24.2" height="0.7" fill="#3c3c42"/>
<text x="236.6" y="166.6" font-size="4.2" font-weight="bold" font-style="italic" fill="#3c3c42" textLength="21" lengthAdjust="spacingAndGlyphs" >Pressure</text>
<rect x="236.5" y="166.9" width="21" height="0.7" fill="#3c3c42"/>
<text x="237.2" y="180.2" font-size="3.3" font-weight="bold" font-style="normal" fill="#4a4a50" textLength="38.4" lengthAdjust="spacingAndGlyphs" >High Pressure limit</text>
<text x="233.8" y="195.1" font-size="4.5" font-weight="bold" font-style="italic" fill="#46464c" textLength="33.4" lengthAdjust="spacingAndGlyphs" >Process Control</text>
<rect x="233.8" y="195.4" width="33.4" height="0.7" fill="#46464c"/>
<text x="237.9" y="207" font-size="3.3" font-weight="bold" font-style="italic" fill="#4a4a50" textLength="29.3" lengthAdjust="spacingAndGlyphs" >Normal Pressure</text>
<text x="281.8" y="225.8" font-size="3.0" font-weight="bold" font-style="normal" fill="#3c3c42" textLength="16.7" lengthAdjust="spacingAndGlyphs" >Low level</text>
<text x="237" y="236.9" font-size="8.3" font-weight="normal" font-style="normal" fill="#5c5c62" textLength="66.8" lengthAdjust="spacingAndGlyphs" >By Jiang Rong Hua</text>
<text transform="translate(229.6 174.4) rotate(-90)" font-size="4.2" font-style="italic" font-weight="bold" fill="#3c3c42" textLength="15.2" lengthAdjust="spacingAndGlyphs">Pressure</text>
<path d="M269.9 143.1 C269.4 155.1 268.7 165.1 268.3 176.1 M268.1 187.1 C267.6 197.1 267.2 206.1 266.9 214.6 " fill="none" stroke="#1c1c20" stroke-width="2.0" stroke-linecap="round" stroke-linejoin="round"/>
<path d="M269.3 134.1 C269.9 122.1 272.1 106.7 276 106.8 C280.1 106.8 283.4 131.2 286.1 152.1 " fill="none" stroke="#1c1c20" stroke-width="2.4" stroke-linecap="round" stroke-linejoin="round"/>
<path d="M268.6 175.1 C269.1 167.1 270.9 157.7 274.7 157.8 C278.6 157.8 281.5 170.2 283.9 182.6 " fill="none" stroke="#1c1c20" stroke-width="2.4" stroke-linecap="round" stroke-linejoin="round"/>
<ellipse cx="269.8" cy="137.9" rx="2.5" ry="7.6" fill="#66666c" stroke="#1c1c20" stroke-width="1.3" />
<ellipse cx="267.9" cy="181.1" rx="2.6" ry="7" fill="#66666c" stroke="#1c1c20" stroke-width="1.3" />
<path d="M242.8 214.1 C244.2 212.3 245.5 212.5 246.6 214.2 S249.4 216.3 250.8 214.4 S253.5 212.4 254.8 214.2 S257.6 216.4 259 214.5 S261.7 212.6 263 214.4 S265.6 216.3 266.9 214.6 C267.7 209.1 268.4 197.5 270.6 197.5 C273.3 197.5 274.7 211.7 277.7 212.4 C278.7 212.6 279.1 210.4 280.1 210.4 S281.3 212.8 282.5 212.4 S283.9 209.6 286.3 210.3 " fill="none" stroke="#1c1c20" stroke-width="1.9" stroke-linecap="round" stroke-linejoin="round"/>
</g>
<g id="bottom">
<text y="418" font-size="18.3" fill="#3a181b" style="font-family:'Liberation Sans','Noto Sans CJK SC',sans-serif"><tspan x="257.3" textLength="23.6" lengthAdjust="spacingAndGlyphs">SIS</tspan><tspan x="281.6" textLength="109.8" lengthAdjust="spacingAndGlyphs">安全仪表系统</tspan></text>
<text y="449.1" font-size="18.3" fill="#3a181b"><tspan x="267.3" textLength="31.8" lengthAdjust="spacingAndGlyphs">400</tspan><tspan x="304.4" textLength="42.4" lengthAdjust="spacingAndGlyphs">8789</tspan><tspan x="352.2" textLength="31.8" lengthAdjust="spacingAndGlyphs">055</tspan></text>
</g>
</svg>
<div style="position:absolute;left:0;top:0;width:600px;height:464px;opacity:0;pointer-events:none;font-size:9px;line-height:10px;overflow:hidden">
<span style="position:absolute;left:83px;top:43px">深奥图</span>
<span style="position:absolute;left:56px;top:133px">SIS 用户<br>接口</span>
<span style="position:absolute;left:190px;top:132px">基本过程控制系统<br>(BPCS)</span>
<span style="position:absolute;left:46px;top:252px">传感器</span>
<span style="position:absolute;left:121px;top:252px">逻辑控制器</span>
<span style="position:absolute;left:135px;top:280px">逻辑</span>
<span style="position:absolute;left:212px;top:252px">最终控制元件</span>
<span style="position:absolute;left:119px;top:338px">SIS 组成</span>
<span style="position:absolute;left:257px;top:401px;font-size:18px;line-height:20px">SIS安全仪表系统</span>
</div>
</body></html>
